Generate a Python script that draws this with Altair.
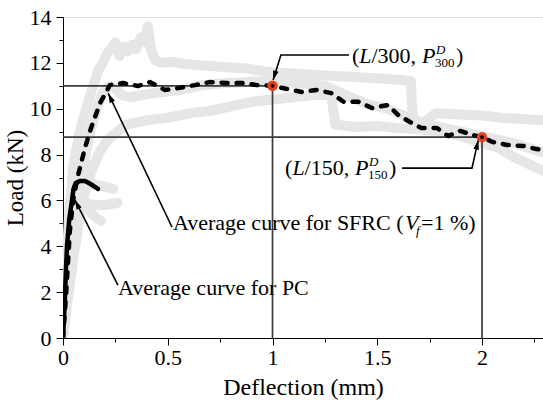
import altair as alt
import pandas as pd

# ---------------- data (deflection mm, load kN) ----------------
# individual SFRC specimens (light grey)
g1_x = [0, 0.015, 0.03, 0.05, 0.08, 0.11, 0.14, 0.17, 0.19, 0.21, 0.23, 0.25, 0.27, 0.29, 0.31, 0.33, 0.35,
        0.37, 0.39, 0.405, 0.42, 0.44, 0.47, 0.52, 0.58, 0.65, 0.72, 0.8, 0.88, 0.95, 1.0, 1.08, 1.15, 1.25,
        1.35, 1.45, 1.55, 1.62, 1.66, 1.67, 1.72, 1.78, 1.9, 2.0, 2.1, 2.2, 2.29]
g1_y = [0, 3.0, 5.5, 7.6, 9.0, 10.0, 10.9, 11.7, 12.0, 12.4, 12.6, 12.9, 12.3, 12.7, 12.5, 12.8, 12.6,
        13.1, 12.9, 13.6, 12.6, 12.1, 12.0, 12.05, 11.95, 11.9, 11.85, 11.8, 11.75, 11.65, 11.6, 11.55, 11.5, 11.45,
        11.4, 11.35, 11.3, 11.25, 11.2, 9.5, 9.4, 9.8, 9.75, 9.7, 9.6, 9.55, 9.5]
g2_x = [0, 0.02, 0.04, 0.07, 0.1, 0.13, 0.16, 0.19, 0.22, 0.25, 0.28, 0.32, 0.38, 0.45, 0.55, 0.65, 0.75,
        0.85, 0.95, 1.05, 1.15, 1.25, 1.35, 1.45, 1.55, 1.65, 1.75, 1.85, 1.95, 2.05, 2.15, 2.22, 2.29]
g2_y = [0, 2.0, 3.8, 5.8, 7.6, 9.0, 10.0, 10.7, 11.0, 10.9, 10.6, 10.5, 10.6, 10.7, 10.8, 11.0, 11.1,
        11.15, 11.2, 11.15, 11.1, 11.0, 10.6, 10.2, 10.0, 9.6, 9.3, 9.1, 8.9, 8.7, 8.5, 8.3, 8.1]
g3_x = [0, 0.02, 0.05, 0.08, 0.11, 0.14, 0.18, 0.22, 0.26, 0.3, 0.4, 0.5, 0.6, 0.7, 0.8, 0.9, 1.0, 1.1,
        1.2, 1.28, 1.3, 1.4, 1.5, 1.6, 1.7, 1.8, 1.9, 2.0, 2.08, 2.15, 2.22, 2.29]
g3_y = [0, 1.5, 3.5, 5.3, 6.6, 7.4, 8.2, 8.7, 9.0, 9.3, 9.5, 9.6, 9.8, 9.9, 10.1, 10.3, 10.4, 10.5,
        10.6, 10.6, 9.3, 9.2, 9.25, 9.15, 9.1, 9.0, 8.8, 8.5, 8.3, 7.9, 7.6, 7.3]
# individual PC specimens (light grey)
p1_x = [0, 0.02, 0.04, 0.06, 0.08, 0.1, 0.15, 0.2, 0.24]
p1_y = [0, 3.0, 5.5, 6.8, 7.1, 6.9, 6.7, 6.6, 6.5]
p2_x = [0, 0.03, 0.05, 0.07, 0.1, 0.15, 0.2, 0.26]
p2_y = [0, 3.5, 5.5, 6.0, 5.9, 5.8, 5.8, 5.9]
p3_x = [0, 0.03, 0.05, 0.07, 0.09, 0.12, 0.15, 0.18]
p3_y = [0, 3.2, 5.0, 6.0, 6.1, 5.6, 5.3, 5.1]

# average curve for SFRC (dashed)
sfrc_x = [0, 0.014, 0.033, 0.05, 0.072, 0.105, 0.134, 0.177, 0.224, 0.287, 0.358, 0.415, 0.487, 0.55, 0.63,
          0.70, 0.78, 0.855, 0.925, 1.0, 1.07, 1.14, 1.21, 1.28, 1.34, 1.41, 1.475, 1.55, 1.6, 1.656, 1.71,
          1.785, 1.838, 1.895, 1.957, 2.0, 2.05, 2.12, 2.2, 2.26, 2.291]
sfrc_y = [0, 1.8, 4.7, 6.1, 7.1, 8.3, 9.16, 10.25, 11.03, 11.12, 10.99, 11.16, 10.82, 10.9, 11.03,
          11.16, 11.12, 11.12, 11.03, 11.0, 10.86, 10.73, 10.82, 10.68, 10.3, 10.3, 10.03, 10.16, 9.73, 9.42, 9.16,
          9.16, 8.81, 9.03, 8.85, 8.76, 8.55, 8.42, 8.37, 8.24, 8.2]
# average curve for PC (solid)
pc_x = [0, 0.008, 0.014, 0.019, 0.03, 0.043, 0.05, 0.06, 0.08, 0.105, 0.125, 0.143, 0.167]
pc_y = [0, 1.5, 3.0, 4.0, 5.2, 6.0, 6.5, 6.75, 6.85, 6.85, 6.75, 6.65, 6.5]

# characteristic points (L/300, P300) and (L/150, P150)
key_x = [1.0, 2.0]
key_y = [11.0, 8.76]

# annotation leader lines (polylines ending at arrow tips)
arrow_id = [1, 1, 1, 2, 2, 2, 3, 3, 4, 4]
arrow_x = [1.365, 1.04, 1.003, 1.618, 1.952, 1.982, 0.52, 0.216, 0.262, 0.057]
arrow_y = [12.34, 12.34, 11.25, 7.41, 7.41, 8.63, 4.84, 10.67, 2.31, 6.02]
tip_x = [1.003, 1.982, 0.216, 0.057]
tip_y = [11.25, 8.63, 10.67, 6.02]
tip_angle = [196.5, 12.7, 334.5, 333.7]

# annotation text anchors
lab300 = (1.379, 11.99)
lab150 = (1.06, 7.11)
lab_sfrc = (0.525, 4.71)
lab_pc = (0.2625, 1.875)

# ---------------- build ----------------
FONT = "Times New Roman, Liberation Serif, serif"

def curves(pairs):
    frames = []
    for name, xs, ys in pairs:
        frames.append(pd.DataFrame({"x": xs, "y": ys, "curve": name, "i": range(len(xs))}))
    return pd.concat(frames, ignore_index=True)

grey = curves([("g1", g1_x, g1_y), ("g2", g2_x, g2_y), ("g3", g3_x, g3_y),
               ("p1", p1_x, p1_y), ("p2", p2_x, p2_y), ("p3", p3_x, p3_y)])
sfrc = curves([("sfrc", sfrc_x, sfrc_y)])
pc = curves([("pc", pc_x, pc_y)])
keys = pd.DataFrame({"x": key_x, "y": key_y, "x0": [0, 0], "y0": [0, 0]})
arrows = pd.DataFrame({"x": arrow_x, "y": arrow_y, "a": arrow_id, "i": range(len(arrow_x))})
tips = pd.DataFrame({"x": tip_x, "y": tip_y, "ang": tip_angle})

xscale = alt.Scale(domain=[0, 2.291], nice=False, zero=False)
yscale = alt.Scale(domain=[0, 14], nice=False, zero=False)

xaxis = alt.Axis(
    values=[0, 0.25, 0.5, 0.75, 1, 1.25, 1.5, 1.75, 2, 2.25],
    labelExpr="datum.value % 0.5 == 0 ? format(datum.value, '~g') : ''",
    tickSize={"condition": {"test": "datum.value % 0.5 != 0", "value": 4}, "value": 7},
    grid=False, domainColor="black", tickColor="black", labelColor="black",
    labelFont=FONT, labelFontSize=22, labelPadding=2, labelFlush=False,
    title="Deflection (mm)", titleFont=FONT, titleFontSize=24, titleFontWeight="normal",
    titleColor="black", titlePadding=7,
)
yaxis = alt.Axis(
    values=list(range(0, 15)),
    labelExpr="datum.value % 2 == 0 ? format(datum.value, '~g') : ''",
    tickSize={"condition": {"test": "datum.value % 2 != 0", "value": 4}, "value": 7},
    grid=False, domainColor="black", tickColor="black", labelColor="black",
    labelFont=FONT, labelFontSize=22, labelPadding=5, labelFlush=False,
    title="Load (kN)", titleFont=FONT, titleFontSize=23, titleFontWeight="normal",
    titleColor="black", titlePadding=2,
)

def X(field="x"):
    return alt.X(f"{field}:Q", scale=xscale, axis=xaxis)

def Y(field="y"):
    return alt.Y(f"{field}:Q", scale=yscale, axis=yaxis)

grey_layer = alt.Chart(grey).mark_line(
    color="#e6e6e6", strokeWidth=10, strokeCap="round", strokeJoin="round", clip=True
).encode(x=X(), y=Y(), detail="curve:N", order="i:Q")

hrules = alt.Chart(keys).mark_rule(color="#3c3c3c", strokeWidth=1.7).encode(
    x=X("x0"), x2="x:Q", y=Y())
vrules = alt.Chart(keys).mark_rule(color="#3c3c3c", strokeWidth=1.7).encode(
    x=X(), y=Y("y0"), y2="y:Q")

pc_layer = alt.Chart(pc).mark_line(
    color="black", strokeWidth=4.5, strokeCap="round", strokeJoin="round", clip=True
).encode(x=X(), y=Y(), order="i:Q")

sfrc_layer = alt.Chart(sfrc).mark_line(
    color="black", strokeWidth=4.5, strokeDash=[6, 9], strokeCap="round", strokeJoin="round", clip=True
).encode(x=X(), y=Y(), order="i:Q")

arrow_lines = alt.Chart(arrows).mark_line(color="black", strokeWidth=1.6).encode(
    x=X(), y=Y(), detail="a:N", order="i:Q")
arrow_heads = alt.Chart(tips).mark_point(
    shape="M0,0L-0.6,2L0.6,2Z", filled=True, color="black", opacity=1, size=90
).encode(x=X(), y=Y(), angle=alt.Angle("ang:Q", scale=None))

key_outer = alt.Chart(keys).mark_point(
    shape="circle", filled=True, color="#e2421c", opacity=1, size=110
).encode(x=X(), y=Y())
key_inner = alt.Chart(keys).mark_point(
    shape="circle", filled=True, color="black", opacity=1, size=14
).encode(x=X(), y=Y())

def piece(anchor, text, dx=0, dy=0, size=22, italic=False):
    df = pd.DataFrame({"x": [anchor[0]], "y": [anchor[1]], "t": [text]})
    return alt.Chart(df).mark_text(
        align="left", baseline="alphabetic", dx=dx, dy=dy, font=FONT, fontSize=size,
        fontStyle="italic" if italic else "normal", color="black"
    ).encode(x=X(), y=Y(), text="t:N")

texts = []
for anchor, num in [(lab300, "300"), (lab150, "150")]:
    texts += [
        piece(anchor, "("),
        piece(anchor, "L", dx=7.3, italic=True),
        piece(anchor, "/" + num + ",", dx=19.5),
        piece(anchor, "P", dx=70, italic=True),
        piece(anchor, "D", dx=84, dy=-9, size=13, italic=True),
        piece(anchor, num, dx=83, dy=4, size=13),
        piece(anchor, ")", dx=104),
    ]
texts += [
    piece(lab_sfrc, "Average curve for SFRC ("),
    piece(lab_sfrc, "V", dx=232, italic=True),
    piece(lab_sfrc, "f", dx=243, dy=5, size=13, italic=True),
    piece(lab_sfrc, "=1 %)", dx=248),
    piece(lab_pc, "Average curve for PC"),
]

chart = alt.layer(
    grey_layer, hrules, vrules, pc_layer, sfrc_layer, arrow_lines, arrow_heads,
    key_outer, key_inner, *texts
).properties(
    width=480, height=321,
    padding={"left": 63, "top": 17, "right": 0, "bottom": 67},
    autosize=alt.AutoSizeParams(type="none"),
).configure_view(stroke=None).configure(background="white")

chart.save("out.html", embed_options={"renderer": "svg", "actions": False})
